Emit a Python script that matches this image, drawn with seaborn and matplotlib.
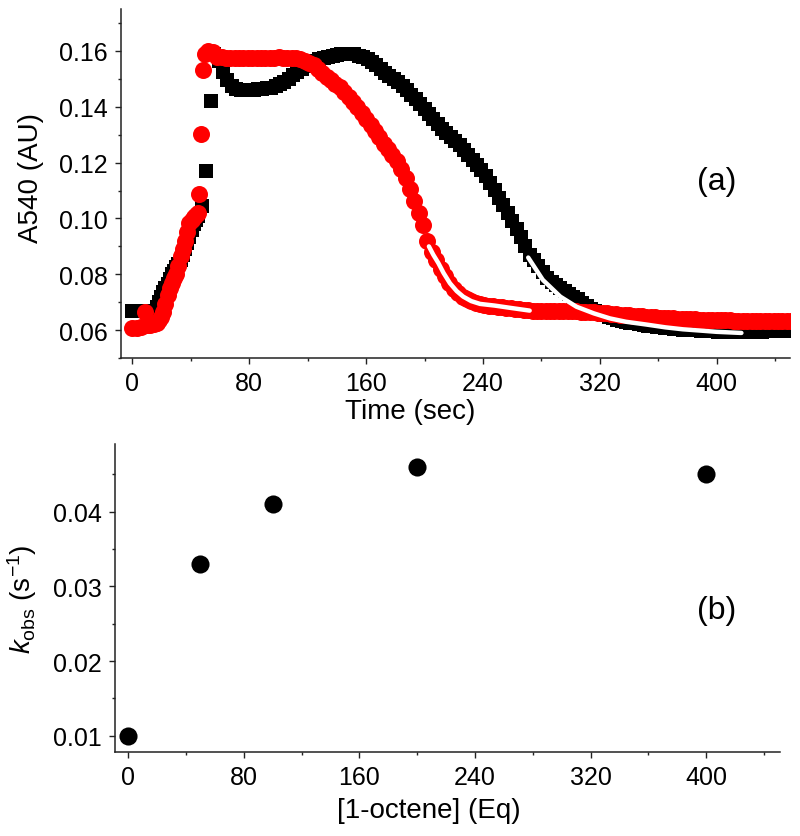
import numpy as np
import pandas as pd
import matplotlib
matplotlib.use("Agg")
import matplotlib.pyplot as plt
import seaborn as sns
from matplotlib.ticker import MultipleLocator, FormatStrFormatter

# ===============================
# Data
# ===============================
# (a) A540 trace, black squares
t_black = [0, 3, 6, 9, 12, 15, 16.5, 18, 19.5, 21, 22.5, 24, 25.5, 27, 28.5, 30,
           31.5, 33, 34.5, 36, 37.5, 39, 40.5, 42, 43.5, 45, 47.3, 50.5, 53.5, 56,
           59, 62, 65, 68, 71, 74, 77, 80, 83, 86, 89, 92, 95, 98, 101, 104, 107,
           110, 113, 116, 119, 122, 125, 128, 131, 134, 137, 140, 143, 146, 149,
           152, 155, 158, 161, 164, 167, 170, 173, 176, 179, 182, 185, 188, 191,
           194, 197, 200, 203, 206, 209, 212, 215, 218, 221, 224, 227, 230, 233,
           236, 239, 242, 245, 248, 251, 254, 257, 260, 263, 266, 269, 272, 275,
           278, 281, 284, 287, 290, 293, 296, 299, 302, 305, 308, 311, 314, 317,
           320, 323, 326, 329, 332, 335, 338, 341, 344, 347, 350, 353, 356, 359,
           362, 365, 368, 371, 374, 377, 380, 383, 386, 389, 392, 395, 398, 401,
           404, 407, 410, 413, 416, 419, 422, 425, 428, 431, 434, 437, 440, 443,
           446, 449, 452]
a_black = [0.0667, 0.0667, 0.0667, 0.0667, 0.0667, 0.0670, 0.0683, 0.0700, 0.0718,
           0.0735, 0.0750, 0.0765, 0.0783, 0.0800, 0.0812, 0.0825, 0.0837, 0.0850,
           0.0870, 0.0890, 0.0912, 0.0935, 0.0957, 0.0980, 0.0995, 0.1010, 0.1045,
           0.1170, 0.1420, 0.1590, 0.1565, 0.1525, 0.1495, 0.1475, 0.1465, 0.1460,
           0.1460, 0.1460, 0.1461, 0.1462, 0.1464, 0.1466, 0.1469, 0.1474, 0.1481,
           0.1490, 0.1500, 0.1512, 0.1525, 0.1537, 0.1547, 0.1556, 0.1563, 0.1570,
           0.1575, 0.1579, 0.1583, 0.1586, 0.1588, 0.1590, 0.1590, 0.1588, 0.1583,
           0.1577, 0.1570, 0.1560, 0.1548, 0.1535, 0.1522, 0.1510, 0.1498, 0.1487,
           0.1476, 0.1460, 0.1443, 0.1427, 0.1410, 0.1392, 0.1374, 0.1356, 0.1338,
           0.1322, 0.1306, 0.1291, 0.1277, 0.1262, 0.1245, 0.1228, 0.1210, 0.1192,
           0.1174, 0.1152, 0.1128, 0.1102, 0.1075, 0.1047, 0.1018, 0.0990, 0.0962,
           0.0932, 0.0900, 0.0870, 0.0850, 0.0830, 0.0808, 0.0788, 0.0773, 0.0760,
           0.0750, 0.0740, 0.0730, 0.0720, 0.0710, 0.0698, 0.0685, 0.0675, 0.0667,
           0.0660, 0.0653, 0.0647, 0.0642, 0.0638, 0.0634, 0.0630, 0.0627, 0.0624,
           0.0621, 0.0618, 0.0616, 0.0614, 0.0612, 0.0610, 0.0608, 0.0606, 0.0604,
           0.0603, 0.0602, 0.0601, 0.0600, 0.0599, 0.0598, 0.0597, 0.0596, 0.0596,
           0.0595, 0.0595, 0.0595, 0.0595, 0.0595, 0.0595, 0.0594, 0.0595, 0.0595,
           0.0595, 0.0595, 0.0596, 0.0596, 0.0596, 0.0596, 0.0596, 0.0596, 0.0596]

# (a) A540 trace, red circles
t_red = [0, 3, 6, 8.5, 10, 12, 15, 16.5, 18, 19.5, 21, 22.5, 24, 25.5, 27, 28.5,
         30, 31.5, 33, 34.5, 36, 37.5, 39, 40.5, 42, 43.5, 44.6, 45.5, 47, 48.5,
         50, 52, 55, 58, 61, 64, 67, 70, 73, 76, 79, 82, 85, 88, 91, 94, 97, 100,
         103, 106, 109, 112, 115, 118, 121, 124, 127, 130, 133, 136, 139, 142, 145,
         148, 151, 154, 157, 160, 163, 166, 169, 172, 175, 178, 181, 184, 187, 190,
         193, 196, 199, 202, 205, 208, 211, 214, 217, 220, 223, 226, 229, 232, 235,
         238, 241, 244, 247, 250, 253, 256, 259, 262, 265, 268, 271, 274, 277, 280,
         283, 286, 289, 292, 295, 298, 301, 304, 307, 310, 313, 316, 319, 322, 325,
         328, 331, 334, 337, 340, 343, 346, 349, 352, 355, 358, 361, 364, 367, 370,
         373, 376, 379, 382, 385, 388, 391, 394, 397, 400, 403, 406, 409, 412, 415,
         418, 421, 424, 427, 430, 433, 436, 439, 442, 445, 448, 451]
a_red = [0.0607, 0.0608, 0.0612, 0.0666, 0.0618, 0.0618, 0.0622, 0.0627, 0.0635,
         0.0648, 0.0665, 0.0695, 0.0725, 0.0750, 0.0770, 0.0785, 0.0800, 0.0830,
         0.0864, 0.0892, 0.0920, 0.0950, 0.0985, 0.0995, 0.1005, 0.1012, 0.1020,
         0.1088, 0.1304, 0.1530, 0.1590, 0.1600, 0.1595, 0.1580, 0.1577, 0.1575,
         0.1574, 0.1573, 0.1573, 0.1574, 0.1574, 0.1575, 0.1575, 0.1576, 0.1576,
         0.1576, 0.1576, 0.1577, 0.1576, 0.1576, 0.1575, 0.1573, 0.1570, 0.1565,
         0.1558, 0.1548, 0.1534, 0.1520, 0.1508, 0.1496, 0.1483, 0.1470, 0.1453,
         0.1436, 0.1418, 0.1398, 0.1378, 0.1357, 0.1335, 0.1312, 0.1290, 0.1268,
         0.1247, 0.1226, 0.1204, 0.1178, 0.1145, 0.1105, 0.1063, 0.1020, 0.0975,
         0.0920, 0.0880, 0.0850, 0.0820, 0.0795, 0.0770, 0.0748, 0.0732, 0.0720,
         0.0712, 0.0705, 0.0699, 0.0694, 0.0691, 0.0688, 0.0686, 0.0684, 0.0682,
         0.0681, 0.0679, 0.0677, 0.0675, 0.0673, 0.0671, 0.0670, 0.0670, 0.0670,
         0.0669, 0.0669, 0.0668, 0.0668, 0.0668, 0.0668, 0.0667, 0.0667, 0.0666,
         0.0665, 0.0665, 0.0664, 0.0663, 0.0662, 0.0661, 0.0659, 0.0658, 0.0656,
         0.0654, 0.0653, 0.0652, 0.0650, 0.0649, 0.0648, 0.0647, 0.0646, 0.0645,
         0.0644, 0.0643, 0.0642, 0.0641, 0.0641, 0.0640, 0.0640, 0.0639, 0.0638,
         0.0638, 0.0637, 0.0637, 0.0636, 0.0636, 0.0635, 0.0635, 0.0634, 0.0634,
         0.0634, 0.0633, 0.0633, 0.0633, 0.0633, 0.0632, 0.0632, 0.0632, 0.0632,
         0.0632, 0.0632, 0.0632]

# (a) fitted curves (white)
t_fit_black = [271, 281, 293, 304, 316, 327, 338, 352, 365, 377, 390, 400, 417]
a_fit_black = [0.0860, 0.0780, 0.0720, 0.0684, 0.0660, 0.0642, 0.0630, 0.0620,
               0.0610, 0.0603, 0.0598, 0.0594, 0.0590]
t_fit_red = [203, 206, 209.5, 213, 217.4, 222, 226.5, 232, 238, 248, 258.5, 272]
a_fit_red = [0.0900, 0.0870, 0.0840, 0.0805, 0.0768, 0.0740, 0.0720, 0.0704,
             0.0694, 0.0688, 0.0680, 0.0670]

# (b) kobs vs [1-octene]
octene_eq = [0, 50, 100, 200, 400]
kobs = [0.010, 0.033, 0.041, 0.046, 0.045]

# ===============================
# Style
# ===============================
sns.set_theme(style="ticks")
plt.rcParams["font.family"] = ["Liberation Sans", "DejaVu Sans"]
plt.rcParams["mathtext.fontset"] = "custom"
plt.rcParams["mathtext.rm"] = "Liberation Sans"
plt.rcParams["mathtext.it"] = "Liberation Sans:italic"
plt.rcParams["axes.edgecolor"] = "#222222"
plt.rcParams["axes.linewidth"] = 1.1
plt.rcParams["text.color"] = "black"
plt.rcParams["axes.labelcolor"] = "black"
plt.rcParams["xtick.labelcolor"] = "black"
plt.rcParams["ytick.labelcolor"] = "black"

fig = plt.figure(figsize=(8, 8.37), dpi=100)
ax1 = fig.add_axes([0.151, 0.571, 0.836, 0.417])
ax2 = fig.add_axes([0.144, 0.100, 0.831, 0.368])

# ===============================
# Panel (a)
# ===============================
sns.scatterplot(x=t_black, y=a_black, marker="s", s=110, color="black",
                linewidth=0, ax=ax1, zorder=2)
sns.scatterplot(x=t_red, y=a_red, marker="o", s=150, color="#ff0000",
                linewidth=0, ax=ax1, zorder=3)
ax1.plot(t_fit_red, a_fit_red, color="white", lw=3.2, solid_capstyle="round", zorder=4)
ax1.plot(t_fit_black, a_fit_black, color="white", lw=3.2, solid_capstyle="round", zorder=4)

ax1.set_xlim(-8, 450)
ax1.set_ylim(0.05, 0.175)
ax1.yaxis.set_major_locator(MultipleLocator(0.02))
ax1.yaxis.set_minor_locator(MultipleLocator(0.01))
ax1.yaxis.set_major_formatter(FormatStrFormatter("%.2f"))
ax1.set_xlabel("Time (sec)", fontsize=20)
ax1.set_ylabel("A540 (AU)", fontsize=20)
ax1.xaxis.set_label_coords(0.433, -0.115)
ax1.yaxis.set_label_coords(-0.115, 0.52)
ax1.text(400, 0.1135, "(a)", fontsize=23, ha="center", va="center")

# ===============================
# Panel (b)
# ===============================
sns.scatterplot(x=octene_eq, y=kobs, marker="o", s=170, color="black",
                linewidth=0, ax=ax2, clip_on=False, zorder=3)
ax2.set_xlim(-9, 451)
ax2.set_ylim(0.0078, 0.049)
ax2.yaxis.set_major_locator(MultipleLocator(0.01))
ax2.yaxis.set_minor_locator(MultipleLocator(0.005))
ax2.yaxis.set_major_formatter(FormatStrFormatter("%.2f"))
ax2.set_xlabel("[1-octene] (Eq)", fontsize=20)
ax2.set_ylabel(r"$k_{\mathrm{obs}}$ (s$^{-1}$)", fontsize=20)
ax2.xaxis.set_label_coords(0.471, -0.145)
ax2.yaxis.set_label_coords(-0.115, 0.5)
ax2.text(407, 0.0268, "(b)", fontsize=23, ha="center", va="center")

for ax in (ax1, ax2):
    sns.despine(ax=ax)
    ax.xaxis.set_major_locator(MultipleLocator(80))
    ax.xaxis.set_minor_locator(MultipleLocator(40))
    ax.tick_params(which="major", direction="out", length=4.5, width=1.0,
                   labelsize=18, color="#222222", pad=5)
    ax.tick_params(which="minor", direction="out", length=2.5, width=1.0,
                   color="#222222")

fig.savefig("out.png", dpi=100)
